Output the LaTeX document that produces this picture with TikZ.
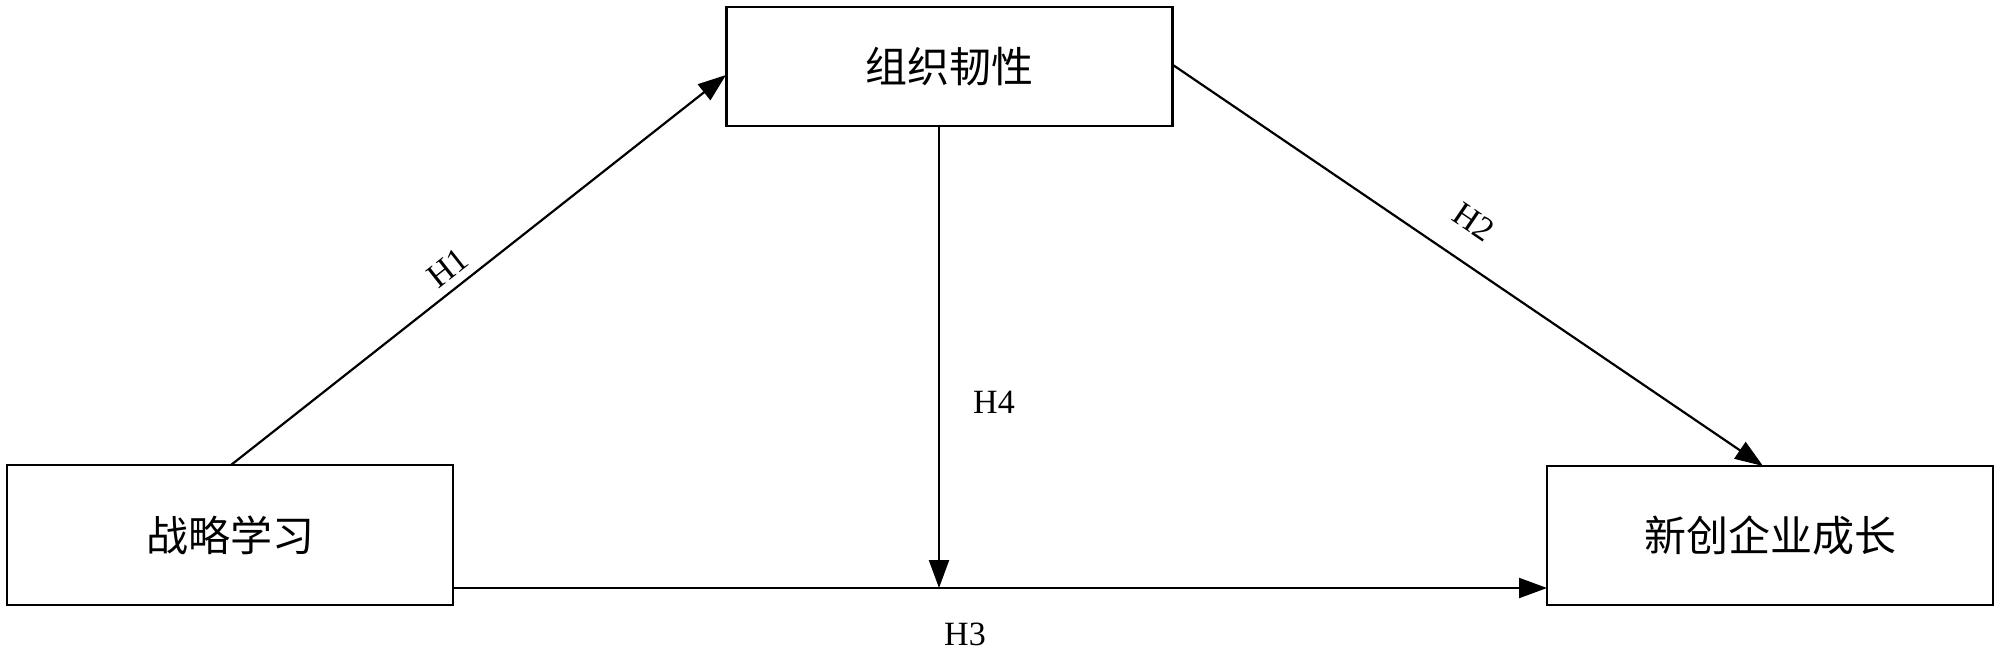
\documentclass[tikz,border=0pt]{standalone}
\usepackage{fontspec}
\setmainfont{Liberation Serif}
\newfontfamily\cjk{Noto Sans CJK SC}
\usetikzlibrary{arrows.meta}
\begin{document}
\begin{tikzpicture}[x=1pt,y=-1pt,
  box/.style={draw,line width=2.4pt,minimum width=446pt,minimum height=119pt,inner sep=0pt,font=\cjk\fontsize{42}{50}\selectfont},
  conn/.style={line width=2.2pt,-{Triangle[length=28pt,width=20pt]}},
  lab/.style={font=\fontsize{34}{40}\selectfont,inner sep=0pt}]
\useasboundingbox (0,0) rectangle (2000,653);
\fill[white] (0,0) rectangle (2000,653);
\node[box] (org) at (949.5,66.5) {组织韧性};
\node[box,minimum height=140pt] (stl) at (230,535) {战略学习};
\node[box,minimum height=139pt] (grw) at (1770,535.5) {新创企业成长};
\coordinate (h1s) at (231,465);
\coordinate (h1e) at (726,75);
\coordinate (h2s) at (1173,65);
\coordinate (h2e) at (1763,466);
\coordinate (h3s) at (453,588);
\coordinate (h3e) at (1547,588);
\coordinate (h4s) at (939,126);
\coordinate (h4e) at (939,588);
\draw[conn] (h1s) -- (h1e);
\draw[conn] (h2s) -- (h2e);
\draw[conn] (h3s) -- (h3e);
\draw[conn] (h4s) -- (h4e);
\node[lab,rotate=38.2] (l1) at (448,268) {H1};
\node[lab,rotate=-34.2] (l2) at (1474,222) {H2};
\node[lab] (l4) at (994,402) {H4};
\node[lab] (l3) at (965,634) {H3};
\end{tikzpicture}
\end{document}
